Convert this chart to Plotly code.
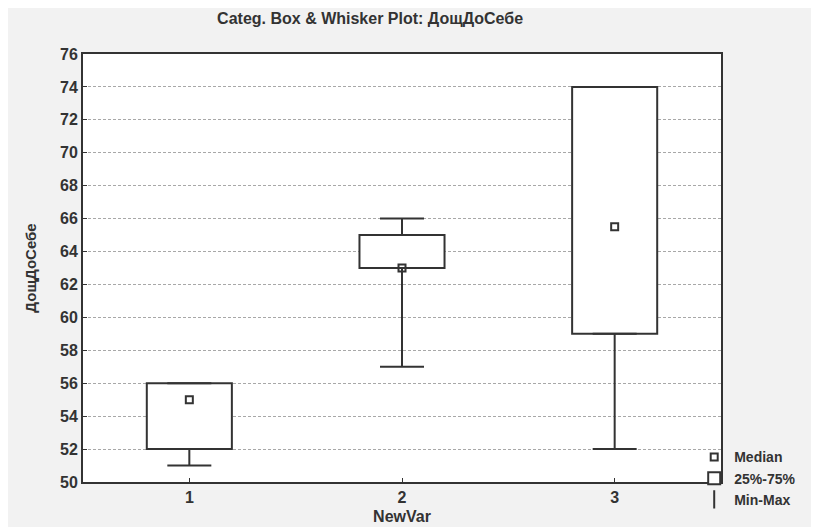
import plotly.graph_objects as go

categories = ["1", "2", "3"]
q1 = [52, 63, 59]
q3 = [56, 65, 74]
median = [55, 63, 65.5]
vmin = [51, 57, 52]
vmax = [56, 66, 74]
y_ticks = list(range(50, 77, 2))

FONT = "Liberation Sans"
INK = "#333333"

fig = go.Figure()

# 25%-75% boxes
fig.add_trace(go.Bar(
    x=categories, y=[b - a for a, b in zip(q1, q3)], base=q1,
    width=0.4, name="25%-75%", legendrank=2,
    marker=dict(color="white", line=dict(color=INK, width=2)),
    hoverinfo="skip",
))

# lower whisker (q1 -> min)
fig.add_trace(go.Scatter(
    x=categories, y=q1, mode="markers", showlegend=False,
    marker=dict(size=1, opacity=0, color=INK),
    error_y=dict(type="data", symmetric=False,
                 array=[0, 0, 0], arrayminus=[a - m for a, m in zip(q1, vmin)],
                 color=INK, thickness=2, width=22),
    hoverinfo="skip",
))
# upper whisker (q3 -> max)
fig.add_trace(go.Scatter(
    x=categories, y=q3, mode="markers", showlegend=False,
    marker=dict(size=1, opacity=0, color=INK),
    error_y=dict(type="data", symmetric=False,
                 array=[m - b for b, m in zip(q3, vmax)], arrayminus=[0, 0, 0],
                 color=INK, thickness=2, width=22),
    hoverinfo="skip",
))

# legend-only entry for the whiskers
fig.add_trace(go.Scatter(
    x=[None], y=[None], mode="markers", name="Min-Max", legendrank=3,
    marker=dict(symbol="line-ns-open", size=13, color=INK, line=dict(color=INK, width=2)),
))

# median markers
fig.add_trace(go.Scatter(
    x=categories, y=median, mode="markers", name="Median", legendrank=1,
    marker=dict(symbol="square-open", size=7, color=INK, line=dict(width=2)),
))

bold = dict(family=FONT, color=INK, weight="bold")

fig.update_layout(
    width=819, height=527,
    margin=dict(l=75, r=106, t=46, b=53),
    paper_bgcolor="#f2f2f2",
    plot_bgcolor="white",
    font=dict(family=FONT, size=13, color=INK),
    title=dict(text="Categ. Box & Whisker Plot: ДощДоСебе",
               x=0.45, xref="paper", xanchor="center",
               y=1, yref="container", yanchor="top", pad=dict(t=5),
               font=dict(size=16, **bold)),
    barmode="overlay",
    showlegend=True,
    legend=dict(x=0.958, y=0.095, xanchor="left", yanchor="top",
                bgcolor="rgba(0,0,0,0)", traceorder="normal",
                font=dict(size=14, **bold)),
    xaxis=dict(
        type="category", range=[-0.5, 2.5],
        showgrid=False, showline=True, mirror=True,
        linecolor=INK, linewidth=2,
        ticks="inside", ticklen=4, tickcolor=INK,
        tickfont=dict(size=16, **bold),
        title=dict(text="NewVar", standoff=6, font=dict(size=16, **bold)),
        zeroline=False,
    ),
    yaxis=dict(
        range=[50, 76], tickvals=y_ticks,
        showgrid=True, gridcolor="#a8a8a8", griddash="3px,2px", gridwidth=1,
        showline=True, mirror=True, linecolor=INK, linewidth=2,
        ticks="inside", ticklen=4, tickcolor=INK,
        tickfont=dict(size=16, **bold),
        title=dict(text="ДощДоСебе", standoff=20, font=dict(size=15, **bold)),
        zeroline=False,
    ),
)

fig.write_html("out.html")
